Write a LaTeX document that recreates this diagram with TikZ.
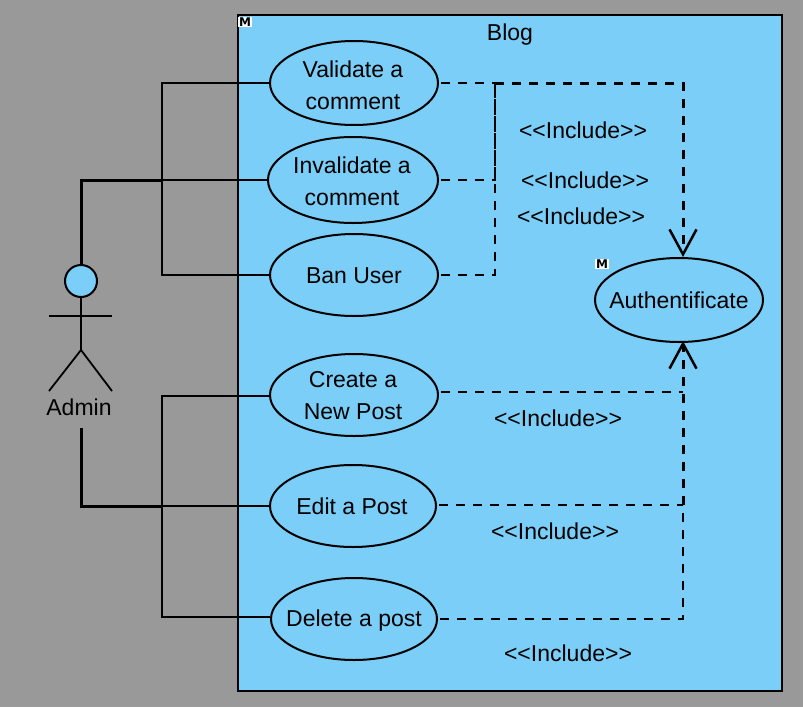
\documentclass[tikz,border=0pt]{standalone}
\usepackage{fontspec}
\setmainfont{Liberation Sans}[Ligatures=TeXOff]
\newfontfamily\iconfont{DejaVu Sans}
\usetikzlibrary{shapes.geometric,arrows.meta,calc}
\definecolor{ucfill}{HTML}{7ACEF7}
\definecolor{bggray}{HTML}{999999}
\tikzset{
  x=1pt,y=-1pt,
  txt/.style={font=\fontsize{23}{32}\selectfont,align=center,inner sep=0pt,text=black},
  uctxt/.style={txt,yshift=-2pt},
  uctxtb/.style={txt,yshift=-1pt,xshift=-1pt},
  usecase/.style={ellipse,draw=black,line width=2pt,fill=ucfill,inner sep=0pt},
  assoc/.style={draw=black,line width=2pt},
  assocthick/.style={draw=black,line width=3pt},
  incl/.style={draw=black,line width=2pt,dash pattern=on 9pt off 8pt},
  inclover/.style={incl,line width=3pt,-{Straight Barb[length=25pt,width=27pt,line width=2.5pt]}},
  actorline/.style={draw=black,line width=1.8pt},
  micon/.style={fill=white,inner sep=0.8pt,font=\iconfont\fontsize{12}{12}\bfseries\selectfont,text=black}
}
\begin{document}
\begin{tikzpicture}
\useasboundingbox (0,0) rectangle (803,707);
\fill[bggray] (0,0) rectangle (803,707);
\node[draw=black,line width=2pt,fill=ucfill,minimum width=544pt,minimum height=676pt,inner sep=0pt] (blog) at (510,353) {};
\node[txt] (blogt) at (510,35) {Blog};
\node[micon] (m1) at (245,22) {M};
\node[micon] (m2) at (602,264) {M};
% use cases
\node[usecase,minimum width=168pt,minimum height=84pt,label={[uctxt,xshift=-1pt]center:Validate a\\comment}] (val) at (354,83) {};
\node[usecase,minimum width=170pt,minimum height=86pt,label={[txt,yshift=-1pt,xshift=-1pt]center:Invalidate a\\comment}] (inv) at (353,180) {};
\node[usecase,minimum width=168pt,minimum height=82pt,label={[txt,yshift=-1pt]center:Ban User}] (ban) at (354,275) {};
\node[usecase,minimum width=168pt,minimum height=82pt,label={[uctxtb]center:Create a\\New Post}] (cre) at (354,395) {};
\node[usecase,minimum width=166pt,minimum height=82pt,label={[txt,xshift=-1pt]center:Edit a Post}] (edi) at (353,506) {};
\node[usecase,minimum width=166pt,minimum height=82pt,label={[uctxt]center:Delete a post}] (del) at (354,619) {};
\node[usecase,minimum width=168pt,minimum height=84pt,label={[txt]center:Authentificate}] (aut) at (679,300) {};
% actor
\node[circle,draw=black,line width=2pt,fill=ucfill,minimum size=32pt,inner sep=0pt] (head) at (81,281) {};
\coordinate (hip) at (81,350);
\coordinate (armL) at (49,316);
\coordinate (armR) at (112,316);
\coordinate (legL) at (49,391);
\coordinate (legR) at (112,391);
\draw[actorline] (head.south) -- (hip);
\draw[actorline] (armL) -- (armR);
\draw[actorline] (legL) -- (hip) -- (legR);
\node[txt] (admin) at (79,407) {Admin};
% associations
\coordinate (upper) at (162,180);
\coordinate (lower) at (162,506);
\coordinate (adminLow) at (81,428);
\draw[assocthick] (head.north) |- (upper);
\draw[assoc] (upper) -- (inv.west);
\draw[assoc] (upper) |- (val.west);
\draw[assoc] (upper) |- (ban.west);
\draw[assocthick] (adminLow) |- (lower);
\draw[assoc] (lower) -- (edi.west);
\draw[assoc] (lower) |- ([yshift=-1pt]cre.west);
\draw[assoc] (lower) |- ([yshift=2pt]del.west);
% includes
\coordinate (jn) at (495,83);
\coordinate (autT) at ($(aut.north)+(4,0)$);
\coordinate (autB) at ($(aut.south)+(4,-2)$);
\coordinate (jn2) at (683,505);
\coordinate (jn3) at (683,392);
\draw[incl] ([xshift=2pt]inv.east) -| (jn);
\draw[incl] ([xshift=2pt]ban.east) -| (jn);
\draw[incl] ([xshift=2pt]val.east) -- (jn);
\draw[inclover] (jn) -| (autT);
\draw[incl] ([xshift=2pt,yshift=3pt]cre.east) -- (jn3);
\draw[incl] ([xshift=2pt,yshift=1pt]edi.east) -- (jn2);
\draw[inclover] (jn2) -- (autB);
\draw[incl] ([xshift=2pt]del.east) -| (jn2);
% labels
\node[txt] (l1) at (583,130) {<<Include>>};
\node[txt] (l2) at (585,180) {<<Include>>};
\node[txt] (l3) at (581,216) {<<Include>>};
\node[txt] (l4) at (558,418) {<<Include>>};
\node[txt] (l5) at (555,531) {<<Include>>};
\node[txt] (l6) at (568,653) {<<Include>>};
\end{tikzpicture}
\end{document}
